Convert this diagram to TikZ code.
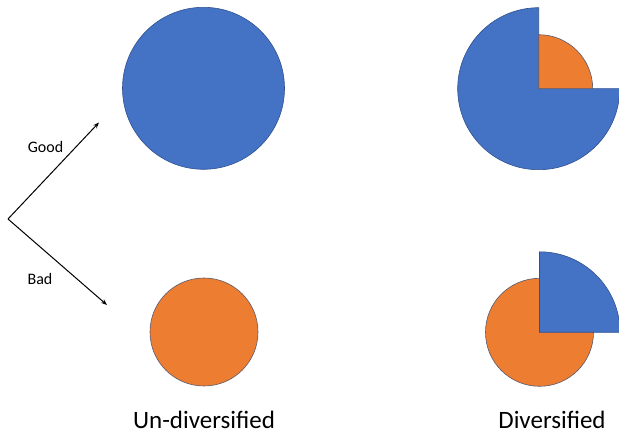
\documentclass[tikz,border=0pt]{standalone}
\usepackage{fontspec}
\setmainfont{Carlito}
\usetikzlibrary{arrows.meta}
\definecolor{pblue}{HTML}{4472C4}
\definecolor{porange}{HTML}{ED7D31}
\definecolor{pedge}{HTML}{2F528F}
\definecolor{oedge}{HTML}{5A5A6E}
\begin{document}
\begin{tikzpicture}[x=1pt,y=1pt,
  blueshape/.style={fill=pblue,draw=pedge,line width=0.6pt},
  orangeshape/.style={fill=porange,draw=oedge,line width=0.6pt},
  arr/.style={-{Stealth[length=6pt,width=4.5pt]},line width=1pt,black},
  small/.style={font=\fontsize{16}{19}\selectfont,anchor=base,inner sep=0pt},
  big/.style={font=\fontsize{25}{30}\selectfont,anchor=base,inner sep=0pt}]
\useasboundingbox (0,0) rectangle (619,434);
% undiversified
\draw[blueshape] (203.5,345.7) circle[radius=81];
\draw[orangeshape] (204,102) circle[radius=54];
% diversified top
\coordinate (c1) at (538.7,345.3);
\draw[blueshape] (c1) -- ++(90:81) arc[start angle=90,end angle=360,radius=81] -- cycle;
\draw[orangeshape] (c1) -- ++(0:54) arc[start angle=0,end angle=90,radius=54] -- cycle;
% diversified bottom
\coordinate (c2) at (539.5,101.7);
\draw[orangeshape] (c2) circle[radius=54];
\draw[blueshape] (c2) -- ++(0:80.5) arc[start angle=0,end angle=90,radius=80.5] -- cycle;
% arrows
\coordinate (o) at (8,215);
\coordinate (g) at (99,311.5);
\coordinate (b) at (107,129);
\draw[arr] (o) -- (g);
\draw[arr] (o) -- (b);
\node[small] (good) at (45.5,281) {Good};
\node[small] (bad) at (40,149) {Bad};
\node[big] (undiv) at (204,5.5) {Un-diversified};
\node[big] (div) at (552,5.5) {Diversified};
\end{tikzpicture}
\end{document}
